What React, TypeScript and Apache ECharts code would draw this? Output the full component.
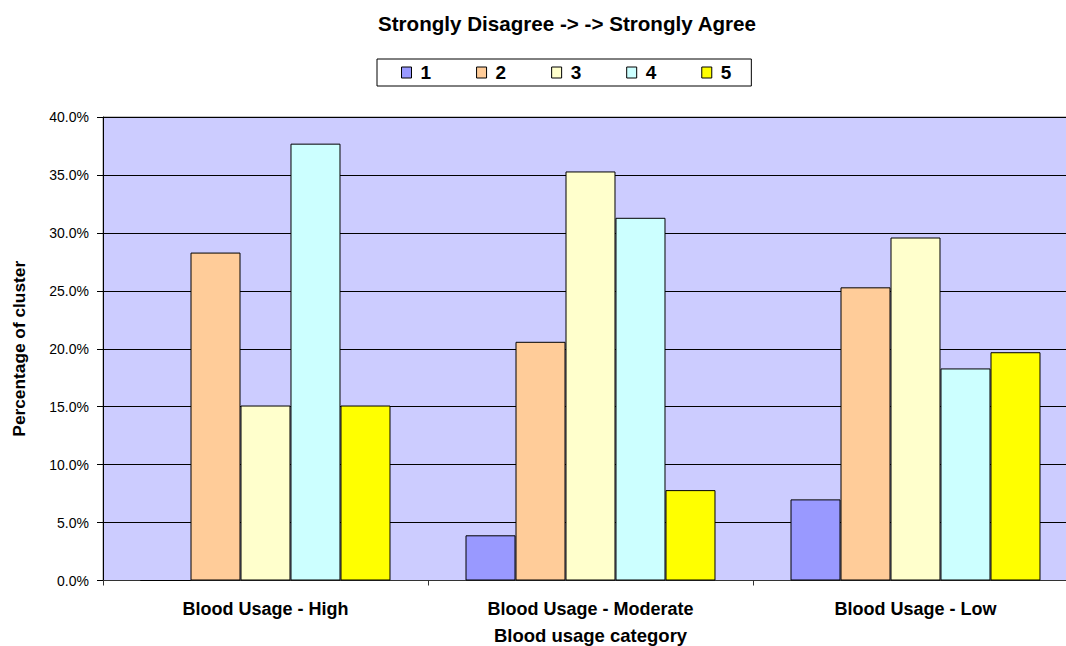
import React, { useEffect, useRef } from "react";
import * as echarts from "echarts";

// Clusters along the x axis
const categories = ["Blood Usage - High", "Blood Usage - Moderate", "Blood Usage - Low"];

// Response levels (1 = strongly disagree ... 5 = strongly agree)
const levels = ["1", "2", "3", "4", "5"];

// Percentage of each cluster per response level
const level1 = [0, 3.9, 7.0];
const level2 = [28.3, 20.6, 25.3];
const level3 = [15.1, 35.3, 29.6];
const level4 = [37.7, 31.3, 18.3];
const level5 = [15.1, 7.8, 19.7];

const levelValues = [level1, level2, level3, level4, level5];
const levelColors = ["#9999FF", "#FFCC99", "#FFFFCC", "#CCFFFF", "#FFFF00"];

// Value axis ticks
const yMin = 0;
const yMax = 40;
const yStep = 5;

const FONT = "'Liberation Sans', Arial, sans-serif";

export default function App() {
  const ref = useRef<HTMLDivElement>(null);

  useEffect(() => {
    if (!ref.current) return;
    const chart = echarts.init(ref.current, undefined, { renderer: "svg" });

    const series = levels.map((name, i) => ({
      name,
      type: "bar" as const,
      data: levelValues[i],
      barGap: "0%",
      barCategoryGap: "23.08%",
      itemStyle: {
        color: levelColors[i],
        borderColor: "#000",
        borderWidth: 1,
      },
    }));

    chart.setOption({
      animation: false,
      backgroundColor: "#ffffff",
      textStyle: { fontFamily: FONT },
      title: {
        text: "Strongly Disagree -> -> Strongly Agree",
        left: 378,
        top: 13,
        padding: 0,
        textStyle: {
          fontFamily: FONT,
          fontSize: 20.6,
          fontWeight: "bold",
          color: "#000",
        },
      },
      legend: {
        data: levels,
        left: 377,
        top: 59,
        orient: "horizontal",
        padding: [4, 20, 4, 24],
        itemGap: 45,
        itemWidth: 10,
        itemHeight: 11,
        icon: "rect",
        borderColor: "#000",
        borderWidth: 1,
        backgroundColor: "#fff",
        itemStyle: { borderColor: "#000", borderWidth: 1 },
        textStyle: {
          fontFamily: FONT,
          fontSize: 19,
          fontWeight: "bold",
          color: "#000",
          padding: [0, 0, 0, 4],
        },
        selectedMode: false,
      },
      grid: {
        left: 103,
        top: 117,
        right: 0,
        bottom: 65.5,
        show: true,
        backgroundColor: "#CCCCFF",
        borderColor: "#888",
        borderWidth: 1,
        containLabel: false,
        outerBoundsMode: "none",
      },
      xAxis: {
        type: "category",
        data: categories,
        name: "Blood usage category",
        nameLocation: "middle",
        nameGap: 45,
        nameTextStyle: {
          fontFamily: FONT,
          fontSize: 18.5,
          fontWeight: "bold",
          color: "#000",
        },
        axisLine: { show: true, lineStyle: { color: "#333", width: 1 } },
        axisTick: { show: true, length: 5, lineStyle: { color: "#333" } },
        axisLabel: {
          margin: 19,
          fontFamily: FONT,
          fontSize: 18,
          fontWeight: "bold",
          color: "#000",
        },
        splitLine: { show: false },
      },
      yAxis: {
        type: "value",
        min: yMin,
        max: yMax,
        interval: yStep,
        name: "Percentage of cluster",
        nameLocation: "middle",
        nameGap: 76,
        nameTextStyle: {
          fontFamily: FONT,
          fontSize: 17.3,
          fontWeight: "bold",
          color: "#000",
        },
        axisLine: { show: true, lineStyle: { color: "#000", width: 1 } },
        axisTick: { show: true, length: 6, lineStyle: { color: "#000" } },
        axisLabel: {
          margin: 14,
          fontFamily: FONT,
          fontSize: 14,
          color: "#000",
          formatter: (v: number) => v.toFixed(1) + "%",
        },
        splitLine: { show: true, lineStyle: { color: "#000", width: 1 } },
      },
      series,
    });

    return () => chart.dispose();
  }, []);

  // The plot runs slightly past the right edge of the visible page.
  return (
    <div style={{ position: "absolute", left: 0, top: 0, width: 1066, height: 646, overflow: "hidden" }}>
      <div ref={ref} style={{ width: 1078, height: 646 }} />
    </div>
  );
}
